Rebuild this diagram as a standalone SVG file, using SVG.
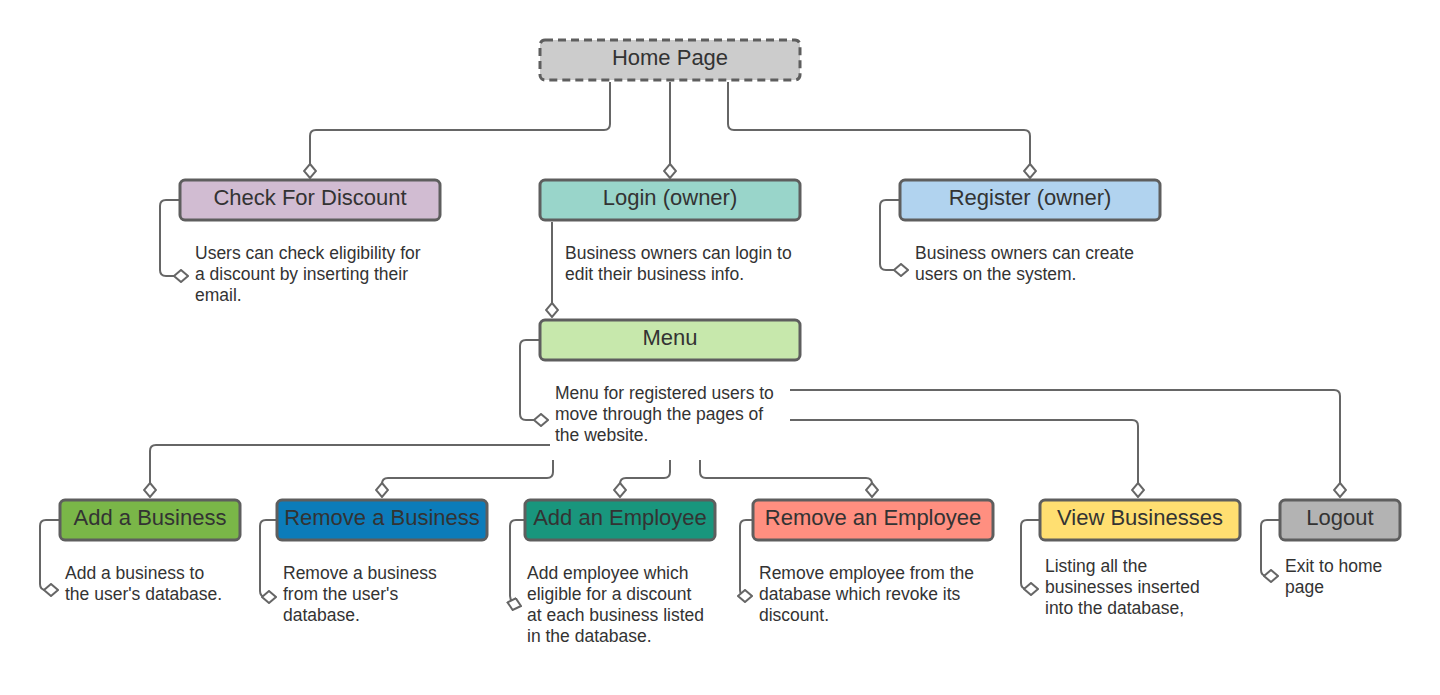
<svg xmlns="http://www.w3.org/2000/svg" width="1440" height="695" viewBox="0 0 1440 695">
  <style>
    .box { stroke: #5e5e5e; stroke-width: 3; }
    .title { font-family: "Liberation Sans", Arial, sans-serif; font-size: 22px; fill: #333333; text-anchor: middle; }
    .desc { font-family: "Liberation Sans", Arial, sans-serif; font-size: 17.5px; fill: #333333; }
    .conn { fill: none; stroke: #666666; stroke-width: 2; marker-end: url(#diamond); }
  </style>
  <defs>
    <marker id="diamond" viewBox="0 0 16 14" refX="15" refY="7" markerWidth="16" markerHeight="14" markerUnits="userSpaceOnUse" orient="auto">
      <path d="M1,7 L8,1 L15,7 L8,13 Z" fill="#ffffff" stroke="#666666" stroke-width="2"/>
    </marker>
  </defs>
  <rect width="1440" height="695" fill="#ffffff"/>

  <!-- connectors -->
  <g id="connectors">
    <path class="conn" d="M610,82 V124 Q610,130 604,130 H316 Q310,130 310,136 V178"/>
    <path class="conn" d="M670,82 V178"/>
    <path class="conn" d="M728,82 V124 Q728,130 734,130 H1024 Q1030,130 1030,136 V178"/>
    <path class="conn" d="M180,200 H166 Q160,200 160,206 V270 Q160,276 166,276 H188"/>
    <path class="conn" d="M552,222 V317"/>
    <path class="conn" d="M900,200 H886 Q880,200 880,206 V264 Q880,270 886,270 H908"/>
    <path class="conn" d="M540,340 H526 Q520,340 520,346 V414 Q520,420 526,420 H548"/>
    <path class="conn" d="M550,445 H156 Q150,445 150,451 V497"/>
    <path class="conn" d="M553,460 V472 Q553,478 547,478 H388 Q382,478 382,484 V497"/>
    <path class="conn" d="M670,460 V472 Q670,478 664,478 H626 Q620,478 620,484 V497"/>
    <path class="conn" d="M700,460 V472 Q700,478 706,478 H866 Q872,478 872,484 V497"/>
    <path class="conn" d="M790,420 H1132 Q1138,420 1138,426 V497"/>
    <path class="conn" d="M790,390 H1334 Q1340,390 1340,396 V497"/>
    <path class="conn" d="M60,520 H46 Q40,520 40,526 V584 Q40,590 46,590 H58"/>
    <path class="conn" d="M277,520 H266 Q260,520 260,526 V591 Q260,597 266,597 H276"/>
    <path class="conn" d="M525,520 H516 Q510,520 510,526 V596 Q510,603 521,606"/>
    <path class="conn" d="M753,520 H746 Q740,520 740,526 V590 Q740,596 746,596 H752"/>
    <path class="conn" d="M1040,520 H1027 Q1021,520 1021,526 V583 Q1021,589 1027,589 H1038"/>
    <path class="conn" d="M1280,520 H1267 Q1261,520 1261,526 V570 Q1261,576 1267,576 H1278"/>
  </g>

  <!-- top level -->
  <g id="home">
    <rect class="box" x="540" y="40" width="260" height="40" rx="5" fill="#cccccc" stroke-dasharray="8 5"/>
    <text class="title" x="670" y="65">Home Page</text>
  </g>

  <!-- second level -->
  <g id="check-discount">
    <rect class="box" x="180" y="180" width="260" height="40" rx="5" fill="#d1bcd2"/>
    <text class="title" x="310" y="205">Check For Discount</text>
    <text class="desc" x="195" y="259">Users can check eligibility for</text>
    <text class="desc" x="195" y="280">a discount by inserting their</text>
    <text class="desc" x="195" y="301">email.</text>
  </g>
  <g id="login">
    <rect class="box" x="540" y="180" width="260" height="40" rx="5" fill="#99d5ca"/>
    <text class="title" x="670" y="205">Login (owner)</text>
    <text class="desc" x="565" y="259">Business owners can login to</text>
    <text class="desc" x="565" y="280">edit their business info.</text>
  </g>
  <g id="register">
    <rect class="box" x="900" y="180" width="260" height="40" rx="5" fill="#b1d3ef"/>
    <text class="title" x="1030" y="205">Register (owner)</text>
    <text class="desc" x="915" y="259">Business owners can create</text>
    <text class="desc" x="915" y="280">users on the system.</text>
  </g>

  <!-- menu -->
  <g id="menu">
    <rect class="box" x="540" y="320" width="260" height="40" rx="5" fill="#c7e8ac"/>
    <text class="title" x="670" y="345">Menu</text>
    <text class="desc" x="555" y="399">Menu for registered users to</text>
    <text class="desc" x="555" y="420">move through the pages of</text>
    <text class="desc" x="555" y="441">the website.</text>
  </g>

  <!-- menu pages -->
  <g id="add-business">
    <rect class="box" x="60" y="500" width="180" height="40" rx="5" fill="#7ab648"/>
    <text class="title" x="150" y="525">Add a Business</text>
    <text class="desc" x="65" y="579">Add a business to</text>
    <text class="desc" x="65" y="600">the user's database.</text>
  </g>
  <g id="remove-business">
    <rect class="box" x="277" y="500" width="210" height="40" rx="5" fill="#0c7cba"/>
    <text class="title" x="382" y="525">Remove a Business</text>
    <text class="desc" x="283" y="579">Remove a business</text>
    <text class="desc" x="283" y="600">from the user's</text>
    <text class="desc" x="283" y="621">database.</text>
  </g>
  <g id="add-employee">
    <rect class="box" x="525" y="500" width="190" height="40" rx="5" fill="#19967d"/>
    <text class="title" x="620" y="525">Add an Employee</text>
    <text class="desc" x="527" y="579">Add employee which</text>
    <text class="desc" x="527" y="600">eligible for a discount</text>
    <text class="desc" x="527" y="621">at each business listed</text>
    <text class="desc" x="527" y="642">in the database.</text>
  </g>
  <g id="remove-employee">
    <rect class="box" x="753" y="500" width="240" height="40" rx="5" fill="#ff8f80"/>
    <text class="title" x="873" y="525">Remove an Employee</text>
    <text class="desc" x="759" y="579">Remove employee from the</text>
    <text class="desc" x="759" y="600">database which revoke its</text>
    <text class="desc" x="759" y="621">discount.</text>
  </g>
  <g id="view-businesses">
    <rect class="box" x="1040" y="500" width="200" height="40" rx="5" fill="#ffdf71"/>
    <text class="title" x="1140" y="525">View Businesses</text>
    <text class="desc" x="1045" y="572">Listing all the</text>
    <text class="desc" x="1045" y="593">businesses inserted</text>
    <text class="desc" x="1045" y="614">into the database,</text>
  </g>
  <g id="logout">
    <rect class="box" x="1280" y="500" width="120" height="40" rx="5" fill="#b3b3b3"/>
    <text class="title" x="1340" y="525">Logout</text>
    <text class="desc" x="1285" y="572">Exit to home</text>
    <text class="desc" x="1285" y="593">page</text>
  </g>
</svg>
